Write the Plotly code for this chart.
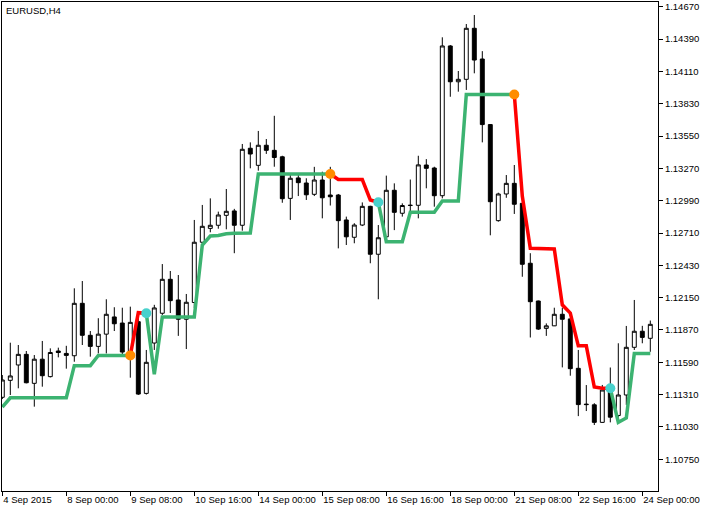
"""
EURUSD H4 chart with a trailing step line (MetaTrader style)
"""
import plotly.graph_objs as go

# candles (4 Sep 2015 16:00 .. 24 Sep 2015 04:00, H4)
opens = [1.11287, 1.11434, 1.11567, 1.11659, 1.11408, 1.11617, 1.11466, 1.11688, 1.11667, 1.11647,
         1.12101, 1.11824, 1.11728, 1.11834, 1.11983, 1.11930, 1.11675, 1.11942, 1.11321, 1.11757,
         1.12015, 1.12309, 1.12130, 1.11963, 1.12108, 1.12630, 1.12750, 1.12777, 1.12863, 1.12901,
         1.12777, 1.13444, 1.13296, 1.13470, 1.13426, 1.13370, 1.13010, 1.13187, 1.13143, 1.13045,
         1.13169, 1.13039, 1.13039, 1.12823, 1.12673, 1.12779, 1.12941, 1.12526, 1.12677, 1.13080,
         1.12881, 1.12948, 1.12950, 1.13299, 1.13273, 1.13033, 1.14330, 1.14020, 1.14041, 1.14483,
         1.14217, 1.13649, 1.12817, 1.13048, 1.13140, 1.12967, 1.12448, 1.12121, 1.11884, 1.11906,
         1.12006, 1.11966, 1.11538, 1.11228, 1.11222, 1.11070, 1.11350, 1.11129, 1.11307, 1.11720,
         1.11859, 1.11798]
highs = [1.11480, 1.11760, 1.11740, 1.11688, 1.11653, 1.11775, 1.11711, 1.11717, 1.11733, 1.12231,
         1.12294, 1.11861, 1.11972, 1.12136, 1.12067, 1.12063, 1.12072, 1.11975, 1.11697, 1.12088,
         1.12441, 1.12381, 1.12346, 1.12182, 1.12823, 1.12953, 1.13010, 1.12895, 1.13091, 1.12919,
         1.13481, 1.13495, 1.13594, 1.13524, 1.13725, 1.13379, 1.13228, 1.13228, 1.13184, 1.13283,
         1.13241, 1.13283, 1.13048, 1.12852, 1.12795, 1.12975, 1.12946, 1.12779, 1.13207, 1.13140,
         1.12967, 1.13173, 1.13379, 1.13350, 1.13284, 1.14405, 1.14338, 1.14113, 1.14520, 1.14598,
         1.14285, 1.13654, 1.13059, 1.13212, 1.13299, 1.12970, 1.12535, 1.12125, 1.11927, 1.12063,
         1.12063, 1.11970, 1.11697, 1.11393, 1.11236, 1.11394, 1.11545, 1.11755, 1.11905, 1.12130,
         1.11906, 1.11952]
lows = [1.11272, 1.11307, 1.11365, 1.11408, 1.11206, 1.11379, 1.11459, 1.11633, 1.11535, 1.11595,
        1.11740, 1.11639, 1.11667, 1.11667, 1.11861, 1.11639, 1.11457, 1.11307, 1.11311, 1.11697,
        1.12000, 1.12017, 1.11819, 1.11705, 1.12061, 1.12615, 1.12716, 1.12747, 1.12742, 1.12535,
        1.12730, 1.13270, 1.13250, 1.13395, 1.13284, 1.12972, 1.12823, 1.13030, 1.12996, 1.13030,
        1.12837, 1.12948, 1.12577, 1.12606, 1.12621, 1.12770, 1.12448, 1.12136, 1.12670, 1.12735,
        1.12852, 1.12895, 1.12837, 1.13097, 1.12938, 1.13010, 1.13890, 1.13934, 1.13949, 1.14093,
        1.13495, 1.12690, 1.12808, 1.13015, 1.12875, 1.12331, 1.11805, 1.11870, 1.11819, 1.11904,
        1.11546, 1.11474, 1.11124, 1.11168, 1.11047, 1.11066, 1.11070, 1.11070, 1.11221, 1.11697,
        1.11755, 1.11681]
closes = [1.11437, 1.11472, 1.11659, 1.11413, 1.11617, 1.11474, 1.11675, 1.11675, 1.11650, 1.12101,
          1.11824, 1.11728, 1.11834, 1.12006, 1.11924, 1.11679, 1.11936, 1.11315, 1.11590, 1.12061,
          1.12309, 1.12124, 1.11963, 1.12110, 1.12630, 1.12768, 1.12777, 1.12866, 1.12898, 1.12777,
          1.13435, 1.13394, 1.13470, 1.13426, 1.13364, 1.13007, 1.13184, 1.13146, 1.13041, 1.13169,
          1.13015, 1.13024, 1.12817, 1.12677, 1.12779, 1.12941, 1.12526, 1.12669, 1.13080, 1.12889,
          1.12948, 1.12950, 1.13300, 1.13270, 1.13033, 1.14330, 1.14020, 1.14041, 1.14483, 1.14208,
          1.13649, 1.12981, 1.13048, 1.13140, 1.12959, 1.12439, 1.12115, 1.11878, 1.11906, 1.12006,
          1.11963, 1.11535, 1.11224, 1.11224, 1.11070, 1.11350, 1.11115, 1.11307, 1.11720, 1.11859,
          1.11806, 1.11919]

# trailing line value per bar
trail = [1.11203, 1.11283, 1.11283, 1.11283, 1.11283, 1.11283, 1.11283, 1.11283, 1.11283, 1.11561,
         1.11561, 1.11561, 1.11650, 1.11650, 1.11650, 1.11650, 1.11650, 1.12020, 1.12015, 1.11486,
         1.11983, 1.11983, 1.11983, 1.11983, 1.11983, 1.12606, 1.12684, 1.12688, 1.12704, 1.12707,
         1.12707, 1.12710, 1.13221, 1.13221, 1.13221, 1.13221, 1.13221, 1.13221, 1.13221, 1.13221,
         1.13221, 1.13221, 1.13173, 1.13173, 1.13173, 1.13173, 1.12996, 1.12976, 1.12635, 1.12635,
         1.12635, 1.12889, 1.12889, 1.12889, 1.12889, 1.12987, 1.12987, 1.12987, 1.13910, 1.13910,
         1.13910, 1.13910, 1.13910, 1.13910, 1.13910, 1.13030, 1.12577, 1.12577, 1.12577, 1.12572,
         1.12088, 1.12017, 1.11733, 1.11733, 1.11376, 1.11365, 1.11365, 1.11070, 1.11108, 1.11667,
         1.11667, 1.11667]
# bars where the line turns down (orange dot) and back up (cyan dot)
down_spans = [(16, 18), (41, 47), (64, 76)]

tick_pos = [0, 8, 16, 24, 32, 40, 48, 56, 64, 72, 80]
tick_text = ['4 Sep 2015', '8 Sep 00:00', '9 Sep 08:00', '10 Sep 16:00', '14 Sep 00:00',
             '15 Sep 08:00', '16 Sep 16:00', '18 Sep 00:00', '21 Sep 08:00', '22 Sep 16:00',
             '24 Sep 00:00']
price_ticks = [1.10750, 1.11030, 1.11310, 1.11590, 1.11870, 1.12150, 1.12430, 1.12710,
               1.12990, 1.13270, 1.13550, 1.13830, 1.14110, 1.14390, 1.14670]

GREEN = '#3CB371'
RED = '#FF0000'
FONT = 'Liberation Sans'

idx = list(range(len(opens)))

# split the trailing line into up (green) and down (red) parts
red_y = [None] * len(trail)
for a, b in down_spans:
    for k in range(a, b + 1):
        red_y[k] = trail[k]
green_y = list(trail)
for a, b in down_spans:
    for k in range(a + 1, b):
        green_y[k] = None

fig = go.Figure()
fig.add_trace(go.Candlestick(
    x=idx, open=opens, high=highs, low=lows, close=closes,
    increasing=dict(line=dict(color='black', width=1), fillcolor='white'),
    decreasing=dict(line=dict(color='black', width=1), fillcolor='black'),
    whiskerwidth=0, showlegend=False, hoverinfo='skip'))
fig.add_trace(go.Scatter(x=idx, y=green_y, mode='lines', connectgaps=False,
                         line=dict(color=GREEN, width=3.5), showlegend=False, hoverinfo='skip'))
fig.add_trace(go.Scatter(x=idx, y=red_y, mode='lines', connectgaps=False,
                         line=dict(color=RED, width=3.5), showlegend=False, hoverinfo='skip'))
fig.add_trace(go.Scatter(x=[a for a, b in down_spans], y=[trail[a] for a, b in down_spans],
                         mode='markers', marker=dict(color='#FF8C00', size=10),
                         showlegend=False, hoverinfo='skip'))
fig.add_trace(go.Scatter(x=[b for a, b in down_spans], y=[trail[b] for a, b in down_spans],
                         mode='markers', marker=dict(color='#48D1CC', size=10),
                         showlegend=False, hoverinfo='skip'))

fig.add_annotation(text='EURUSD,H4', xref='paper', yref='paper', x=0.003, y=0.997,
                   xanchor='left', yanchor='top', showarrow=False,
                   font=dict(family=FONT, size=9.5, color='black'))

fig.update_layout(
    width=710, height=511,
    margin=dict(l=2, r=52, t=2, b=20, autoexpand=False),
    paper_bgcolor='white', plot_bgcolor='white',
    font=dict(family=FONT, size=9.5, color='black'),
    xaxis=dict(range=[-0.0375, 81.9625], rangeslider=dict(visible=False),
               tickvals=tick_pos, ticktext=tick_text, ticks='outside', ticklen=4,
               tickcolor='black', ticklabelposition='outside right', tickangle=0,
               automargin=False,
               showgrid=False, zeroline=False, showline=True, linecolor='black',
               linewidth=1, mirror=True),
    yaxis=dict(range=[1.104755, 1.147107], side='right', tickvals=price_ticks,
               tickformat='.5f', ticks='outside', ticklen=4, tickcolor='black',
               automargin=False,
               showgrid=False, zeroline=False, showline=True, linecolor='black',
               linewidth=1, mirror=True),
)

# page body has a default margin; drop it so the figure sits at the window corner
fig.write_html("out.html", config={'displayModeBar': False},
               post_script="document.body.style.margin='0';")
